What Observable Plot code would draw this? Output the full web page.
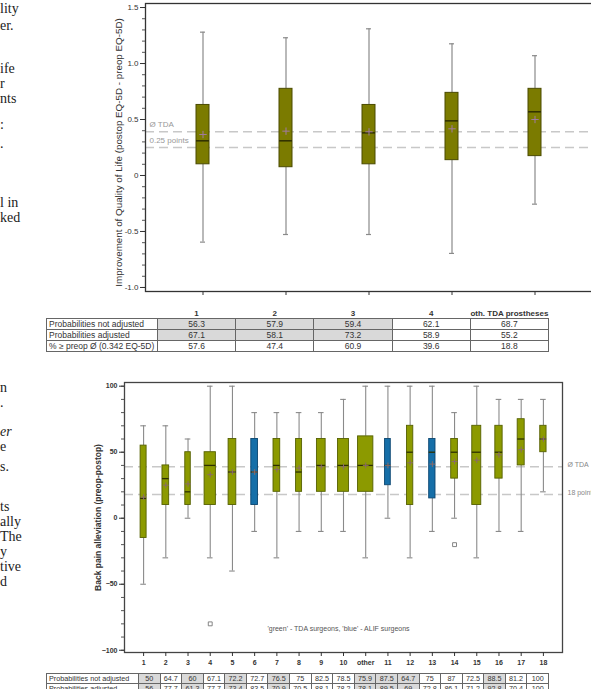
<!DOCTYPE html>
<html><head><meta charset="utf-8">
<script src="https://cdn.jsdelivr.net/npm/d3@7"></script>
<script src="https://cdn.jsdelivr.net/npm/@observablehq/plot@0.6"></script>
<style>
html,body{margin:0;padding:0;overflow:hidden;background:#fff;width:591px;height:689px;}
body{position:relative;font-family:"Liberation Sans",Arial,sans-serif;}
.chart{position:absolute;left:0;width:640px;}
.chart svg{max-width:none !important;}
.mt{position:absolute;left:0;font-family:"Liberation Serif","Times New Roman",serif;font-size:14px;line-height:15px;color:#222;white-space:nowrap;}
table.stats{position:absolute;border-collapse:collapse;table-layout:fixed;color:#333;font-family:"Liberation Sans",Arial,sans-serif;}
table.stats td{border:1px solid #666;padding:0;text-align:center;white-space:nowrap;overflow:hidden;}
table.stats td.lab{text-align:left;padding-left:2px;}
table.stats th{border:none;font-weight:bold;text-align:center;white-space:nowrap;vertical-align:bottom;padding:0;}
table.stats td.sh{background:#d9d9d9;}
</style>
</head><body>
<div id="top" class="chart" style="top:0px"></div>
<div id="bottom" class="chart" style="top:360px"></div>
<div id="margin"></div>
<script>
// ---------- DATA: Quality of life improvement (top chart) ----------
const qolCategories = ["1", "2", "3", "4", "oth. TDA prostheses"];
const qolWhiskerLow  = [-0.595, -0.527, -0.527, -0.696, -0.256];
const qolQ1          = [0.10, 0.074, 0.10, 0.137, 0.173];
const qolMedian      = [0.31, 0.31, 0.381, 0.488, 0.569];
const qolMean        = [0.366, 0.396, 0.39, 0.417, 0.50];
const qolQ3          = [0.63, 0.774, 0.63, 0.738, 0.774];
const qolWhiskerHigh = [1.28, 1.23, 1.31, 1.176, 1.07];
const qolRefValues = [0.39, 0.25];
const qolRefLabels = ["Ø TDA", "0.25 points"];
const qolYTicks = [-1.0, -0.5, 0, 0.5, 1.0, 1.5];
const qolYTitle = "Improvement of Quality of Life (postop EQ-5D - preop EQ-5D)";
const qolRowLabels = ["Probabilities not adjusted", "Probabilities adjusted", "% ≥ preop Ø (0.342 EQ-5D)"];
const qolProbNotAdjusted = ["56.3", "57.9", "59.4", "62.1", "68.7"];
const qolProbAdjusted    = ["67.1", "58.1", "73.2", "58.9", "55.2"];
const qolPctAbovePreop   = ["57.6", "47.4", "60.9", "39.6", "18.8"];

// ---------- DATA: Back pain alleviation (bottom chart) ----------
const bpCategories = ["1","2","3","4","5","6","7","8","9","10","other","11","12","13","14","15","16","17","18"];
const bpGroup = ["TDA","TDA","TDA","TDA","TDA","ALIF","TDA","TDA","TDA","TDA","TDA","ALIF","TDA","ALIF","TDA","TDA","TDA","TDA","TDA"];
const bpWhiskerLow  = [-50,-30,0,-30,-40,-10,-30,-10,-10,-10,-30,0,-30,-10,0,-30,-10,-10,20];
const bpQ1          = [-15,10,10,10,10,10,20,20,20,20,20,25,10,15,30,10,30,40,50];
const bpMedian      = [15,30,20,40,35,35,40,35,40,40,40,40,50,50,50,50,50,60,60];
const bpMean        = [16,25,26,33,35,35,37,38,39,39,40,40,42,41,43,44,48,52,60];
const bpQ3          = [55,40,50,50,60,60,60,60,60,60,62,60,70,60,60,70,70,75,70];
const bpWhiskerHigh = [70,70,60,100,100,80,80,80,80,90,100,100,100,100,80,100,90,90,90];
const bpOutlierCategories = ["4", "14"];
const bpOutlierValues = [-80, -20];
const bpRefValues = [39, 18];
const bpRefLabels = ["Ø TDA", "18 points"];
const bpYTicks = [-100, -50, 0, 50, 100];
const bpYTitle = "Back pain alleviation (preop-postop)";
const bpLegendText = "'green' - TDA surgeons, 'blue' - ALIF surgeons";
const bpRowLabels = ["Probabilities not adjusted", "Probabilities adjusted"];
const bpProbNotAdjusted = ["50","64.7","60","67.1","72.2","72.7","76.5","75","82.5","78.5","75.9","87.5","64.7","75","87","72.5","88.5","81.2","100"];
const bpProbAdjusted    = ["56","77.7","61.3","77.7","73.4","83.5","70.9","70.5","88.1","78.2","78.1","89.5","69","72.8","86.1","71.2","92.8","70.4","100"];

// ---------- margin text fragments (cropped body text) ----------
const marginTopLines = [["lity",8],["er.",25],["ife",68],["r",83],["nts",98],[":",124],[".",143],["l in",202],["ked",217]];
const marginBottomLines = [["n",387],[".",402],["er",431,true],["e",446],["s.",466],["ts",506],["ally",521],["The",536],["y",551],["tive",566],["d",581]];

// ================= rendering =================
const FONT = "Liberation Sans, Arial, sans-serif";

// ---- top chart ----
const qolData = qolCategories.map((c, i) => ({
  cat: c, lo: qolWhiskerLow[i], q1: qolQ1[i], med: qolMedian[i], mean: qolMean[i], q3: qolQ3[i], hi: qolWhiskerHigh[i]
}));
const qolRefs = qolRefValues.map((v, i) => ({v, label: qolRefLabels[i]}));
const minorQ = d3.range(-10, 16).map(k => k / 10);

const topPlot = Plot.plot({
  width: 600, height: 300,
  marginLeft: 145, marginRight: 8, marginTop: 3, marginBottom: 9,
  style: {fontFamily: FONT, fontSize: "8px", color: "#333", background: "transparent", overflow: "visible", maxWidth: "none"},
  x: {type: "band", domain: qolCategories, paddingInner: 0.8445, paddingOuter: 0.596},
  y: {domain: [-1.036, 1.536]},
  marks: [
    Plot.ruleY(qolRefs, {y: "v", stroke: "#c8c8c8", strokeWidth: 1.4, strokeDasharray: "9,5"}),
    Plot.text(qolRefs, {y: "v", text: "label", frameAnchor: "left", textAnchor: "start", dx: 4, dy: -7, fill: "#999", fontSize: 8}),
    Plot.ruleX(qolData, {x: "cat", y1: "lo", y2: "q1", stroke: "#8a8a8a", strokeWidth: 1.2}),
    Plot.ruleX(qolData, {x: "cat", y1: "q3", y2: "hi", stroke: "#8a8a8a", strokeWidth: 1.2}),
    Plot.tickY(qolData, {x: "cat", y: "lo", stroke: "#8a8a8a", strokeWidth: 1.2, insetLeft: 4, insetRight: 4}),
    Plot.tickY(qolData, {x: "cat", y: "hi", stroke: "#8a8a8a", strokeWidth: 1.2, insetLeft: 4, insetRight: 4}),
    Plot.barY(qolData, {x: "cat", y1: "q1", y2: "q3", fill: "#7b7b00", stroke: "#4a4a00", strokeWidth: 1}),
    Plot.tickY(qolData, {x: "cat", y: "med", stroke: "#333300", strokeWidth: 1.6}),
    Plot.dot(qolData, {x: "cat", y: "mean", symbol: "plus", r: 2.5, stroke: "#a07aa0", strokeWidth: 1}),
    Plot.frame({stroke: "#333", strokeWidth: 1.3}),
    Plot.axisY({ticks: minorQ, tickSize: 3, tickFormat: () => "", label: null, stroke: "#555"}),
    Plot.axisY({ticks: qolYTicks, tickSize: 5, tickPadding: 2, fontSize: 8, fill: "#333",
      tickFormat: d => d === 0 ? "0" : d.toFixed(1), label: null}),
    Plot.text([qolYTitle], {frameAnchor: "left", textAnchor: "middle", rotate: -90, dx: -27, dy: 5, fontSize: 9.8, fill: "#333"}),
    Plot.axisX({tickSize: 4, tickFormat: () => "", label: null})
  ]
});
document.getElementById("top").appendChild(topPlot);

// ---- bottom chart ----
const bpData = bpCategories.map((c, i) => ({
  cat: c, i, group: bpGroup[i], lo: bpWhiskerLow[i], q1: bpQ1[i], med: bpMedian[i], mean: bpMean[i], q3: bpQ3[i], hi: bpWhiskerHigh[i]
}));
const bpOutliers = bpOutlierCategories.map((c, k) => ({i: bpCategories.indexOf(c), v: bpOutlierValues[k]}));
const bpRefs = bpRefValues.map((v, i) => ({v, label: bpRefLabels[i]}));
// styling: box widths in pixels (boxes drawn with variable width as in the original)
const STEP = 22.2;
const boxPx = [6,6.7,5.5,11.3,7.7,6.7,6.7,6,8.7,11,15.3,5.7,6.3,6.3,6.7,9,7.3,7,6.3];
const hw = d => boxPx[d.i] / 2 / STEP;
const capHw = 2.8 / STEP;
const minorB = d3.range(-10, 11).map(k => k * 10);

const bottomPlot = Plot.plot({
  width: 620, height: 312,
  marginLeft: 124, marginRight: 58, marginTop: 22, marginBottom: 20,
  style: {fontFamily: FONT, fontSize: "7px", color: "#333", background: "transparent", overflow: "visible", maxWidth: "none"},
  x: {type: "linear", domain: [-0.86, 18.86]},
  y: {domain: [-101.7, 102.8]},
  marks: [
    Plot.ruleY(bpRefs, {y: "v", stroke: "#c8c8c8", strokeWidth: 1.4, strokeDasharray: "9,5"}),
    Plot.text(bpRefs, {y: "v", text: "label", frameAnchor: "right", textAnchor: "start", dx: 5, dy: -2, fill: "#888", fontSize: 7}),
    Plot.ruleX(bpData, {x: "i", y1: "lo", y2: "q1", stroke: "#8a8a8a", strokeWidth: 1.1}),
    Plot.ruleX(bpData, {x: "i", y1: "q3", y2: "hi", stroke: "#8a8a8a", strokeWidth: 1.1}),
    Plot.ruleY(bpData, {y: "lo", x1: d => d.i - capHw, x2: d => d.i + capHw, stroke: "#8a8a8a", strokeWidth: 1.1}),
    Plot.ruleY(bpData, {y: "hi", x1: d => d.i - capHw, x2: d => d.i + capHw, stroke: "#8a8a8a", strokeWidth: 1.1}),
    Plot.rect(bpData.filter(d => d.group === "TDA"), {x1: d => d.i - hw(d), x2: d => d.i + hw(d), y1: "q1", y2: "q3", fill: "#8c9a00", stroke: "#556000", strokeWidth: 0.9}),
    Plot.rect(bpData.filter(d => d.group === "ALIF"), {x1: d => d.i - hw(d), x2: d => d.i + hw(d), y1: "q1", y2: "q3", fill: "#166fa8", stroke: "#0b4670", strokeWidth: 0.9}),
    Plot.ruleY(bpData, {y: "med", x1: d => d.i - hw(d), x2: d => d.i + hw(d), stroke: "#2d3000", strokeWidth: 1.3}),
    Plot.dot(bpData, {x: "i", y: "mean", symbol: "plus", r: 2, stroke: "#8a6a6a", strokeWidth: 1}),
    Plot.dot(bpOutliers, {x: "i", y: "v", symbol: "square", r: 2.2, stroke: "#777", fill: "white", strokeWidth: 0.9}),
    Plot.text([bpLegendText], {frameAnchor: "bottom", dy: -22, dx: -5, fill: "#555", fontSize: 7}),
    Plot.frame({stroke: "#444", strokeWidth: 1.3}),
    Plot.axisY({ticks: minorB, tickSize: 3, tickFormat: () => "", label: null, stroke: "#555"}),
    Plot.axisY({ticks: bpYTicks, tickSize: 5, tickPadding: 2, fontSize: 7, fontWeight: "bold", fill: "#333", label: null}),
    Plot.text([bpYTitle], {frameAnchor: "left", textAnchor: "middle", rotate: -90, dx: -26, fontSize: 8.5, fontWeight: "bold", fill: "#333"}),
    Plot.axisX({ticks: d3.range(bpCategories.length), tickSize: 4, tickPadding: 4, fontSize: 7, fontWeight: "bold", fill: "#333",
      tickFormat: i => bpCategories[i], label: null})
  ]
});
document.getElementById("bottom").appendChild(bottomPlot);

// ---- tables ----
function makeTable(opts) {
  const t = document.createElement("table");
  t.className = "stats";
  Object.assign(t.style, {left: opts.left + "px", top: opts.top + "px", width: opts.width + "px", fontSize: opts.fontSize + "px"});
  const cg = document.createElement("colgroup");
  cg.innerHTML = `<col style="width:${opts.labelW}px">` + opts.header.map(() => `<col>`).join("");
  t.appendChild(cg);
  if (opts.showHeader) {
    const tr = document.createElement("tr");
    tr.style.height = opts.headerH + "px";
    tr.innerHTML = "<th></th>" + opts.header.map(h => `<th style="font-size:${opts.headerFont}px">${h}</th>`).join("");
    t.appendChild(tr);
  }
  opts.rows.forEach((r, ri) => {
    const tr = document.createElement("tr");
    tr.style.height = opts.rowH + "px";
    tr.innerHTML = `<td class="lab">${opts.rowLabels[ri]}</td>` +
      r.map((v, ci) => `<td class="${opts.shaded(ri, ci) ? "sh" : ""}">${v}</td>`).join("");
    t.appendChild(tr);
  });
  document.body.appendChild(t);
}
makeTable({left: 46, top: 307, width: 503, labelW: 111, fontSize: 8.5, headerFont: 8, headerH: 11, rowH: 10.7, showHeader: true,
  header: qolCategories, rowLabels: qolRowLabels,
  rows: [qolProbNotAdjusted, qolProbAdjusted, qolPctAbovePreop],
  shaded: (r, c) => r < 2 && c < 3});
const bpShade = new Set([0, 2, 4, 6, 10, 11, 12, 16]);
makeTable({left: 46, top: 673, width: 503, labelW: 92, fontSize: 7.2, headerFont: 7, headerH: 0, rowH: 10, showHeader: false,
  header: bpCategories, rowLabels: bpRowLabels,
  rows: [bpProbNotAdjusted, bpProbAdjusted],
  shaded: (r, c) => bpShade.has(c)});

// ---- margin text ----
const m = document.getElementById("margin");
[...marginTopLines, ...marginBottomLines].forEach(([txt, y, it]) => {
  const d = document.createElement("div");
  d.className = "mt";
  d.style.top = (y - 7.5) + "px";
  if (it) d.style.fontStyle = "italic";
  d.textContent = txt;
  m.appendChild(d);
});
</script>
</body></html>
